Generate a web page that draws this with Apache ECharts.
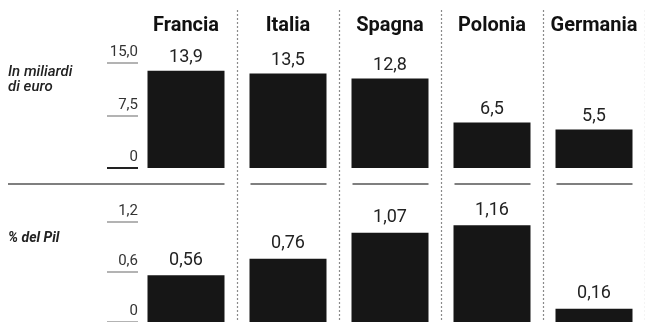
<!DOCTYPE html>
<html>
<head>
<meta charset="utf-8">
<script src="https://cdn.jsdelivr.net/npm/echarts@6/dist/echarts.min.js"></script>
<style>
html,body{margin:0;padding:0;background:#fff;}
#c{width:645px;height:322px;}
</style>
</head>
<body>
<div id="c"></div>
<script>
const categories = ['Francia', 'Italia', 'Spagna', 'Polonia', 'Germania'];
const euroValues = [13.9, 13.5, 12.8, 6.5, 5.5];
const pilValues = [0.56, 0.76, 1.07, 1.16, 0.16];
const euroTicks = [0, 7.5, 15];
const pilTicks = [0, 0.6, 1.2];
const euroLabel = 'In miliardi\ndi euro';
const pilLabel = '% del Pil';

const comma = (v, d) => v.toFixed(d).replace('.', ',');
const FONT = 'Roboto';

const chart = echarts.init(document.getElementById('c'), null, {renderer: 'canvas'});

const gridL = 135, gridW = 516;

function valueAxis(gridIndex, ticks) {
  return {
    type: 'value', gridIndex: gridIndex, position: 'left',
    min: ticks[0], max: ticks[ticks.length - 1], interval: ticks[1] - ticks[0],
    offset: -3,
    axisLine: {show: false},
    splitLine: {show: false},
    axisTick: {show: true, length: 31, lineStyle: {color: '#9a9a9a', width: 1.5}},
    axisLabel: {
      margin: 0, align: 'right', verticalAlign: 'bottom', padding: [0, 0, 3, 0],
      fontFamily: FONT, fontSize: 15, color: '#333',
      formatter: v => v === 0 ? '0' : comma(v, 1)
    }
  };
}

const option = {
  animation: false,
  backgroundColor: '#fff',
  grid: [
    {left: gridL, width: gridW, top: 63, height: 105},
    {left: gridL, width: gridW, top: 222, height: 103},
    {left: gridL, width: gridW, top: 10, bottom: 0}
  ],
  xAxis: [
    {type: 'category', gridIndex: 0, data: categories, show: false},
    {type: 'category', gridIndex: 1, data: categories, show: false},
    {type: 'category', gridIndex: 2, data: categories, position: 'top',
     axisLine: {show: false}, axisTick: {show: false},
     axisLabel: {interval: 0, inside: true, margin: 6, verticalAlign: 'top', fontFamily: FONT, fontWeight: 'bold', fontSize: 20, color: '#111'},
     splitLine: {show: true, interval: (i) => i > 0, lineStyle: {color: '#8a8a8a', type: [2, 2], width: 1.2}}
    }
  ],
  yAxis: [
    valueAxis(0, euroTicks),
    valueAxis(1, pilTicks),
    {type: 'value', gridIndex: 2, show: false},
    {type: 'value', gridIndex: 0, position: 'left', min: 0, max: 15, offset: -3,
     axisLine: {show: false}, splitLine: {show: false}, axisLabel: {show: false},
     axisTick: {show: true, length: 31, customValues: [0], lineStyle: {color: '#222', width: 2}}}
  ],
  series: [
    {type: 'bar', xAxisIndex: 0, yAxisIndex: 0, data: euroValues, barWidth: 77,
     itemStyle: {color: '#161616'},
     label: {show: true, position: 'top', distance: 4, fontFamily: FONT, fontSize: 18, color: '#222',
             formatter: p => comma(p.value, 1)}},
    {type: 'bar', xAxisIndex: 1, yAxisIndex: 1, data: pilValues, barWidth: 77,
     itemStyle: {color: '#161616'},
     label: {show: true, position: 'top', distance: 6, fontFamily: FONT, fontSize: 18, color: '#222',
             formatter: p => comma(p.value, 2)}}
  ],
  graphic: [
    {type: 'text', left: 8, top: 65, style: {text: euroLabel, font: 'italic 500 15px ' + FONT, fill: '#222', lineHeight: 15}},
    {type: 'text', left: 8, top: 231, style: {text: pilLabel, font: 'italic bold 14px ' + FONT, fill: '#222'}}
  ]
};
chart.setOption(option);

// separator rule between the two panels, one segment under each column
const sepY = 184;
const half = 77 / 2;
const segs = [];
categories.forEach((c, i) => {
  const cx = chart.convertToPixel({xAxisIndex: 1}, c);
  const x1 = i === 0 ? 8 : cx - half + 1;
  segs.push({type: 'line', shape: {x1: x1, y1: sepY, x2: cx + half, y2: sepY},
             style: {stroke: '#555', lineWidth: 1.5}, silent: true});
});
chart.setOption({graphic: option.graphic.concat(segs)});
</script>
</body>
</html>
